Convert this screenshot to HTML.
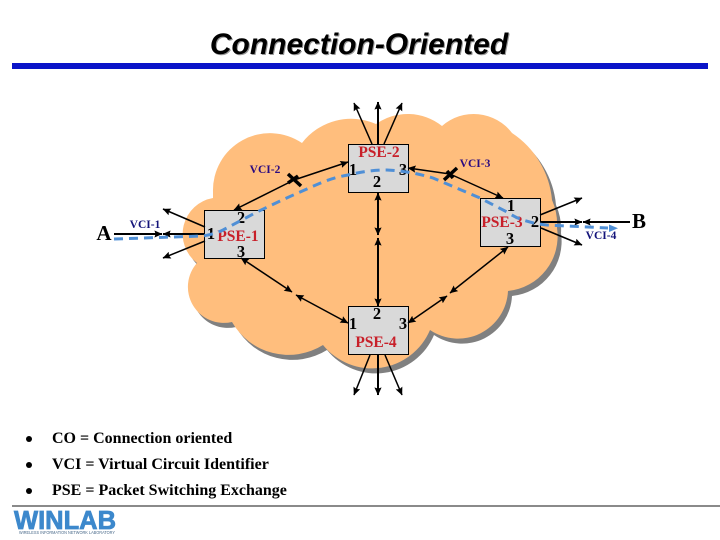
<!DOCTYPE html>
<html>
<head>
<meta charset="utf-8">
<style>
html,body{margin:0;padding:0;background:#fff;}
svg{display:block;}
.s{font-family:"Liberation Serif",serif;font-weight:bold;}
.n{font-size:16.5px;fill:#000;text-anchor:middle;}
.p{font-size:15.5px;fill:#c8202a;text-anchor:middle;}
.v{font-size:11.5px;text-anchor:middle;}
.b{font-size:16px;fill:#000;}
</style>
</head>
<body>
<svg width="720" height="540" viewBox="0 0 720 540" xmlns="http://www.w3.org/2000/svg">
<defs>
<marker id="a" viewBox="0 0 10 10" refX="9.5" refY="5" markerWidth="8" markerHeight="8" markerUnits="userSpaceOnUse" orient="auto-start-reverse"><path d="M0 0.5L10 5L0 9.5L1.5 5Z" fill="#000"/></marker>
<path id="c" d="M213 192 A57 57 0 0 1 302 143 A62 62 0 0 1 376 124 A55 55 0 0 1 442 126 A48 48 0 0 1 512 133 A90 90 0 0 1 552 200 A60 60 0 0 1 557 228 A55 55 0 0 1 508 291 A50 50 0 0 1 430 330 A63 63 0 0 1 323 345 A65 65 0 0 1 232 322 A36 36 0 0 1 197 263 A36.5 36.5 0 0 1 213 198 Z"/>
</defs>

<text x="360" y="55" font-family="Liberation Sans,sans-serif" font-weight="bold" font-style="italic" font-size="30" text-anchor="middle" fill="#999">Connection-Oriented</text>
<text x="359" y="54" font-family="Liberation Sans,sans-serif" font-weight="bold" font-style="italic" font-size="30" text-anchor="middle" fill="#000">Connection-Oriented</text>
<rect x="12" y="63" width="696" height="6" fill="#0a14c8"/>

<use href="#c" x="4" y="5" fill="#808080"/>
<use href="#c" fill="#ffbe7d"/>

<g fill="#d9d9d9" stroke="#000" stroke-width="1">
<rect x="204.5" y="210.5" width="60" height="48"/>
<rect x="348.5" y="144.5" width="60" height="48"/>
<rect x="480.5" y="198.5" width="60" height="48"/>
<rect x="348.5" y="306.5" width="60" height="48"/>
</g>

<g stroke="#000" fill="none">
<g stroke-width="1.5" marker-end="url(#a)">
<line x1="205" y1="227" x2="163" y2="209"/>
<line x1="205" y1="241" x2="163" y2="258"/>
<line x1="372" y1="144" x2="354" y2="103"/>
<line x1="384" y1="144" x2="402" y2="103"/>
<line x1="540" y1="215" x2="582" y2="198"/>
<line x1="541" y1="228" x2="582" y2="245"/>
<line x1="370" y1="355" x2="354" y2="395"/>
<line x1="385" y1="355" x2="402" y2="395"/>
<line x1="294" y1="180" x2="234" y2="210"/>
<line x1="294" y1="180" x2="348" y2="162"/>
<line x1="450" y1="174" x2="408" y2="168"/>
<line x1="450" y1="174" x2="503" y2="198"/>
</g>
<g stroke-width="1.5" marker-start="url(#a)" marker-end="url(#a)">
<line x1="450" y1="293" x2="508" y2="247"/>
<line x1="447" y1="296" x2="408" y2="323"/>
<line x1="292" y1="292" x2="241" y2="258"/>
<line x1="296" y1="295" x2="348" y2="323"/>
</g>
<g stroke-width="2" marker-end="url(#a)">
<line x1="114" y1="234" x2="162" y2="234"/>
<line x1="204" y1="234" x2="163" y2="234"/>
<line x1="378" y1="144" x2="378" y2="102"/>
<line x1="378" y1="354" x2="378" y2="395"/>
<line x1="540" y1="222" x2="582" y2="222"/>
<line x1="630" y1="222" x2="583" y2="222"/>
</g>
<g stroke-width="2" marker-start="url(#a)" marker-end="url(#a)">
<line x1="378" y1="193" x2="378" y2="235"/>
<line x1="378" y1="238" x2="378" y2="306"/>
</g>
<g stroke-width="3.5">
<line x1="288" y1="174" x2="301" y2="186"/>
<line x1="288" y1="183" x2="298" y2="176"/>
<line x1="444" y1="180" x2="457" y2="168"/>
<line x1="447" y1="171" x2="453" y2="178"/>
</g>
</g>

<g class="s">
<text class="p" x="238" y="241">PSE-1</text>
<text class="p" x="379" y="157">PSE-2</text>
<text class="p" x="502" y="227">PSE-3</text>
<text class="p" x="376" y="347">PSE-4</text>
<text class="n" x="211" y="239">1</text><text class="n" x="241" y="223">2</text><text class="n" x="241" y="257">3</text>
<text class="n" x="353" y="175">1</text><text class="n" x="377" y="187">2</text><text class="n" x="403" y="175">3</text>
<text class="n" x="511" y="211">1</text><text class="n" x="535" y="227">2</text><text class="n" x="510" y="244">3</text>
<text class="n" x="353" y="329">1</text><text class="n" x="377" y="319">2</text><text class="n" x="403" y="329">3</text>
<text class="v" x="145" y="228" fill="#14147a">VCI-1</text>
<text class="v" x="265" y="173" fill="#2a0a80">VCI-2</text>
<text class="v" x="475" y="167" fill="#2a0a80">VCI-3</text>
<text class="v" x="601" y="239" fill="#14147a">VCI-4</text>
<text x="104" y="240" font-size="21" text-anchor="middle">A</text>
<text x="639" y="228" font-size="21" text-anchor="middle">B</text>
</g>

<path d="M114 239 L203 236 Q215 234 223 230 L257 212 Q290 196 323 182 Q336 177 348 175 Q368 170 387 170 Q410 171 433 178 L480 198 L507 212 Q516 218 523 220 Q535 224 547 225 L608 228" fill="none" stroke="#4f8fd6" stroke-width="3" stroke-dasharray="9 6"/>
<path d="M609 224.5 L618 228.3 L609 232 Z" fill="#4f8fd6"/>

<circle cx="29" cy="439" r="3" fill="#000"/>
<circle cx="29" cy="465" r="3" fill="#000"/>
<circle cx="29" cy="491" r="3" fill="#000"/>
<text class="s b" x="52" y="443">CO = Connection oriented</text>
<text class="s b" x="52" y="469">VCI = Virtual Circuit Identifier</text>
<text class="s b" x="52" y="495">PSE = Packet Switching Exchange</text>

<rect x="12" y="505" width="708" height="2" fill="#8a8a8a"/>
<text x="14" y="529" font-family="Liberation Sans,sans-serif" font-weight="bold" font-size="26" fill="#3c88cc" stroke="#3c88cc" stroke-width="0.8" textLength="102" lengthAdjust="spacingAndGlyphs">WINLAB</text>
<text x="19" y="534" font-family="Liberation Sans,sans-serif" font-size="4.5" fill="#4a6a8a" textLength="96" lengthAdjust="spacingAndGlyphs">WIRELESS INFORMATION NETWORK LABORATORY</text>
</svg>
</body>
</html>
